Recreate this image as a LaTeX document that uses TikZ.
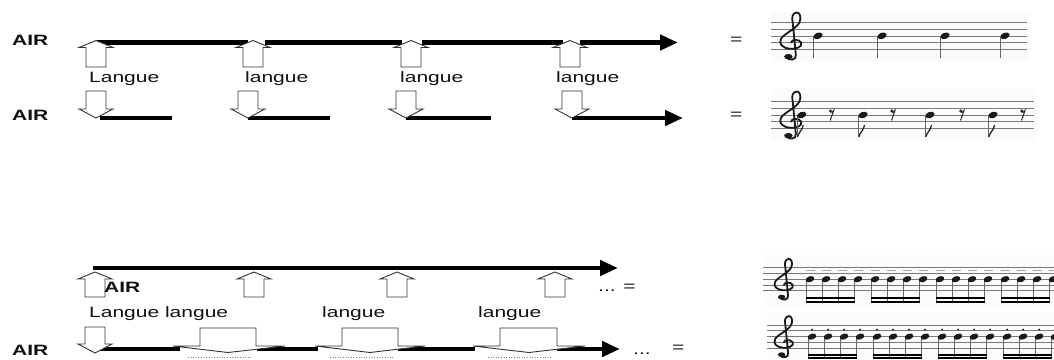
\documentclass[tikz,border=0pt]{standalone}
\usepackage{fontspec}
\setmainfont{Liberation Sans}
\usetikzlibrary{arrows.meta}
\definecolor{outl}{HTML}{333333}
\definecolor{txt}{HTML}{111111}
\definecolor{stl}{HTML}{7a7a7a}
\definecolor{stemc}{HTML}{666666}
\tikzset{
 thickline/.style={line width=4.5pt, black},
 thickarrow/.style={thickline, -{Triangle[length=18pt,width=15pt]}},
 blockarr/.style={draw=outl, fill=white, line width=0.9pt, line join=miter},
 lbl/.style={inner sep=0pt, anchor=base west, text=txt, font=\fontsize{15}{18}\selectfont},
 airlbl/.style={lbl, font=\fontsize{15}{18}\selectfont\bfseries},
 staffline/.style={draw=stl, line width=0.8pt},
 stemline/.style={draw=stemc, line width=1pt},
 headfill/.style={fill=black!90},
 staffbg/.style={fill=black!1.5},
 dotline/.style={draw=gray, line width=0.6pt, dotted},
}
\newcommand\hs[1]{\scalebox{1.4}[1]{#1}}
% up block arrow: cx, apex y, bottom y
\newcommand\upblk[3]{%
 \draw[blockarr] (#1,#2) -- (#1+17,#2+7) -- (#1+10,#2+7) -- (#1+10,#3) -- (#1-10,#3) -- (#1-10,#2+7) -- (#1-17,#2+7) -- cycle;}
% down block arrow: cx, top y, tip y
\newcommand\dnblk[3]{%
 \draw[blockarr] (#1-10,#2) -- (#1+10,#2) -- (#1+10,#3-9) -- (#1+17,#3-9) -- (#1,#3) -- (#1-17,#3-9) -- (#1-10,#3-9) -- cycle;}
% wide down arrow: box x1, box x2, head left, head right, tip x
\newcommand\wideblk[5]{%
 \draw[blockarr] (#1,346) -- (#1,328) -- (#2,328) -- (#2,346) -- (#4,346) -- (#5,352.5) -- (#3,346) -- cycle;
 \draw[dotline] (#1-12,357) -- (#2-4,357);}
% staff: x1, x2, ytop, spacing
\newcommand\stafflines[4]{%
 \foreach \i in {0,...,4} {\draw[staffline] (#1,{#3+\i*#4}) -- (#2,{#3+\i*#4});}}
% treble clef: x, y of G line, spacing
\newcommand\gclef[3]{%
 \begin{scope}[shift={(#1,#2)}, xscale=1.6*#3, yscale=-1.03*#3]
 \draw[line width=1.8pt, line cap=round, black!90] (0.1,0.0) .. controls (0.1,0.5) and (0.9,0.55) .. (1.05,0.0) .. controls (1.2,-0.6) and (0.6,-0.95) .. (0.1,-0.9) .. controls (-0.7,-0.85) and (-1.1,-0.2) .. (-0.85,0.55) .. controls (-0.6,1.3) and (0.6,2.0) .. (0.9,3.0) .. controls (1.1,3.7) and (0.9,4.5) .. (0.6,4.4) .. controls (0.2,4.3) and (0.15,3.6) .. (0.25,3.0) -- (0.55,-1.8) .. controls (0.65,-2.6) and (-0.2,-2.7) .. (-0.3,-2.1);
 \fill[black!90] (-0.15,-2.05) circle [radius=0.4];
 \end{scope}}
% note head: x, y, xr, yr
\newcommand\nhead[4]{\fill[headfill, rotate around={20:(#1,#2)}] (#1,#2) ellipse (#3pt and #4pt);}

\begin{document}
\begin{tikzpicture}[x=1pt,y=-1pt]
\useasboundingbox (0,0) rectangle (1054,359);

% ---------- row 1 ----------
\draw[thickline] (97,42.5) -- (248,42.5);
\draw[thickline] (265,42.5) -- (402,42.5);
\draw[thickline] (422,42.5) -- (563,42.5);
\draw[thickarrow] (580,42.5) -- (678,42.5);
\upblk{96}{40.5}{67}
\upblk{253}{40.5}{67}
\upblk{411}{40.5}{67}
\upblk{570}{40.5}{67}

% ---------- row 2 ----------
\draw[thickline] (100,118) -- (172,118);
\draw[thickline] (248,118) -- (330,118);
\draw[thickline] (406,118) -- (491,118);
\draw[thickarrow] (572,118) -- (683,118);
\dnblk{96}{91}{118}
\dnblk{248}{91}{118}
\dnblk{406}{91}{118}
\dnblk{572}{91}{118}

% ---------- bottom section, upper line ----------
\draw[thickarrow] (93,268) -- (618,268);
\upblk{95}{272}{297}
\upblk{254}{272}{297}
\upblk{397}{272}{297}
\upblk{555}{272}{297}

% ---------- bottom section, lower line ----------
\draw[thickline] (100,349) -- (180,349);
\draw[thickline] (257,349) -- (318,349);
\draw[thickline] (398,349) -- (475,349);
\draw[thickarrow] (557,349) -- (620,349);
\dnblk{95}{327}{353}
\wideblk{200}{256}{173}{285}{228}
\wideblk{342}{398}{315}{425}{370}
\wideblk{500}{557}{473}{585}{529}

% ---------- labels ----------
\node[airlbl] (air1) at (12,45) {\hs{AIR}};
\node[airlbl] (air2) at (12,120) {\hs{AIR}};
\node[airlbl] (air3) at (104,292) {\hs{AIR}};
\node[airlbl] (air4) at (12,355) {\hs{AIR}};
\node[lbl] (l1) at (89,82) {\hs{Langue}};
\node[lbl] (l2) at (245,82) {\hs{langue}};
\node[lbl] (l3) at (400,82) {\hs{langue}};
\node[lbl] (l4) at (556,82) {\hs{langue}};
\node[lbl] (l5) at (89,317) {\hs{Langue langue}};
\node[lbl] (l6) at (322,317) {\hs{langue}};
\node[lbl] (l7) at (478,317) {\hs{langue}};
\node[lbl] (eq1) at (730,44.5) {\hs{=}};
\node[lbl] (eq2) at (730,119) {\hs{=}};
\node[lbl] (eq3) at (598,291) {\hs{... =}};
\node[lbl] (dots4) at (633,354) {\hs{...}};
\node[lbl] (eq4) at (672,352) {\hs{=}};

% ---------- staff 1: quarter notes ----------
\fill[staffbg] (771,12) rectangle (1030,62);
\stafflines{771}{1027}{22.7}{6.65}
\gclef{790}{42.65}{6.65}
\foreach \nx in {818,882,945,1005} {
  \draw[stemline] (\nx-4.3,37) -- (\nx-4.3,58);
  \nhead{\nx}{35.8}{4.8}{3.1}
}

% ---------- staff 2: eighth notes and rests ----------
\fill[staffbg] (771,88) rectangle (1036,141);
\stafflines{771}{1034}{101.7}{6.65}
\gclef{790}{121.65}{6.65}
\foreach \nx in {801.7,863,930,993} {
  \draw[stemline] (\nx-4.3,116) -- (\nx-4.3,137);
  \draw[line width=1.3pt, black!85] (\nx-4.3,137) .. controls (\nx-3,132) and (\nx+1,130) .. (\nx+1.5,125);
  \nhead{\nx}{115}{4.8}{3.1}
}
\foreach \rx in {831.7,893,962,1023} {
  \fill[black!85] (\rx-1.2,111) circle (1.7pt);
  \draw[line width=1pt, black!85] (\rx-1.2,112.3) .. controls (\rx,112.6) and (\rx+1.5,111.6) .. (\rx+2,110.5) -- (\rx-1.5,120.5);
}

% ---------- staff 3: sixteenths with tenuto ----------
\fill[staffbg] (763,255) rectangle (1054,306);
\stafflines{763}{1054}{267.7}{5.75}
\gclef{783}{284.95}{5.75}
\foreach \g in {810,875,940,1005} {
  \foreach \k in {0,1,2,3} {
    \draw[stemline] (\g+\k*16-4,280) -- (\g+\k*16-4,302.5);
    \nhead{\g+\k*16}{279.2}{4.5}{2.9}
    \draw[draw=gray!70, line width=1.6pt] (\g+\k*16-4.5,270.5) -- (\g+\k*16+4.5,270.5);
  }
  \fill[black] (\g-4.5,297.3) rectangle (\g+44.5,299.3);
  \fill[black] (\g-4.5,300.7) rectangle (\g+44.5,302.7);
}

% ---------- staff 4: sixteenths with staccato ----------
\fill[staffbg] (767,313) rectangle (1054,359);
\stafflines{767}{1054}{325}{5.8}
\gclef{783}{342.4}{5.8}
\foreach \g in {812,877,942,1007} {
  \foreach \k in {0,1,2,3} {
    \draw[stemline] (\g+\k*16-4,337.5) -- (\g+\k*16-4,359);
    \nhead{\g+\k*16}{336.6}{4.5}{2.9}
    \fill[black!85] (\g+\k*16,329.6) circle (1.1pt);
  }
  \fill[black] (\g-4.5,354) rectangle (\g+44.5,356);
  \fill[black] (\g-4.5,357.4) rectangle (\g+44.5,359.4);
}
\end{tikzpicture}
\end{document}
